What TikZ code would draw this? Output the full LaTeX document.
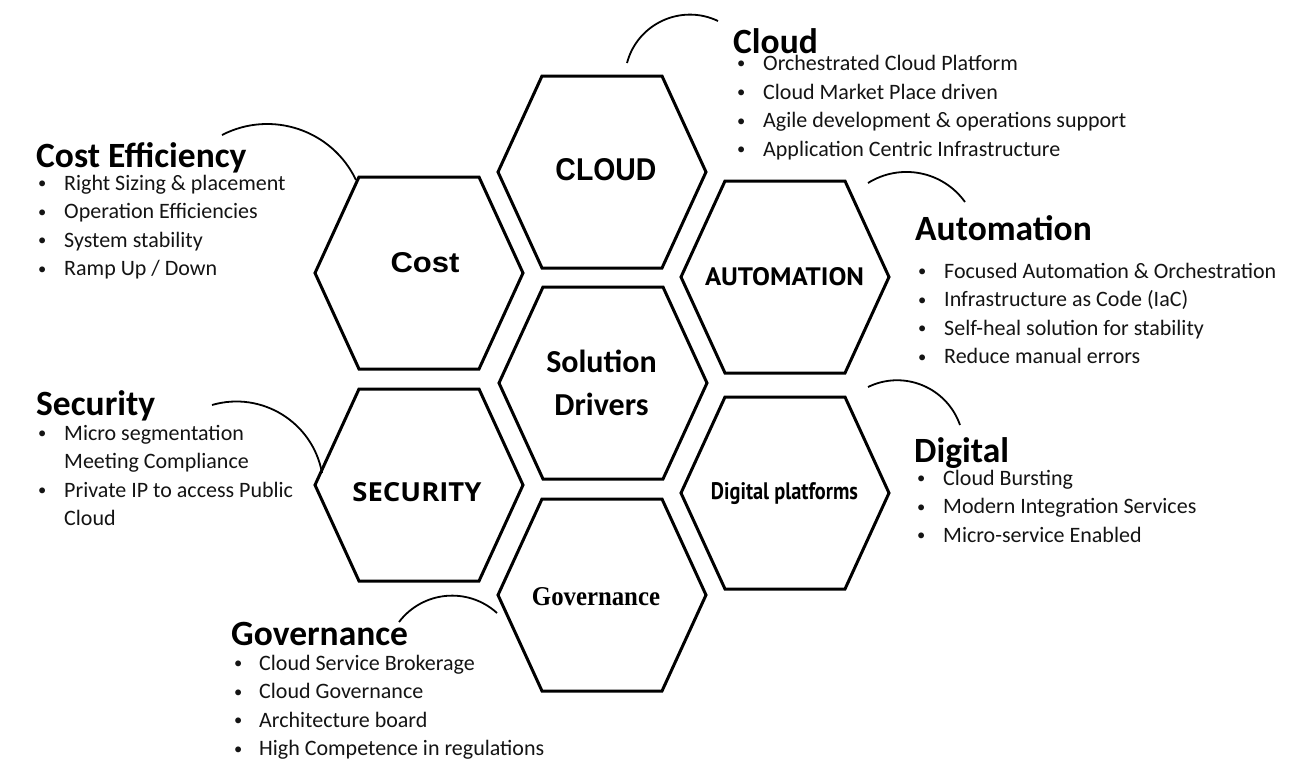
\documentclass[tikz,border=0pt]{standalone}
\usepackage{fontspec}
\usepackage{graphicx}
\setmainfont{Carlito}
\newfontfamily\calfont{Carlito}
\newfontfamily\arialfont{Liberation Sans}
\newfontfamily\ptfont{PT Sans}
\newfontfamily\serfont{Liberation Serif}
\newfontfamily\opfont{Open Sans}
\newcommand\bulitem[2]{\makebox[#1pt][l]{\hspace{1pt}\raisebox{1.5pt}{\scalebox{0.75}{\textbullet}}}#2}
\begin{document}
\begin{tikzpicture}[x=1pt,y=-1pt,
  hexline/.style={line width=3pt, line join=miter, draw=black},
  hexa/.pic={\draw[hexline] (-104,0) -- (-60,-96) -- (60,-96) -- (104,0) -- (60,96) -- (-60,96) -- cycle;},
  arcline/.style={line width=1.8pt, draw=black},
  headtxt/.style={font=\calfont\bfseries\fontsize{35.5}{40}\selectfont, anchor=base west, inner sep=0pt, text=black},
  bultxt/.style={font=\calfont\fontsize{22}{26}\selectfont, anchor=base west, inner sep=0pt, text=black!92},
  hexlab/.style={anchor=base, inner sep=0pt, text=black}
]
\useasboundingbox[fill=white] (0,0) rectangle (1302,772);

% hexagon centres
\coordinate (cCloud) at (602,172);
\coordinate (cCost) at (419,273);
\coordinate (cSol) at (603,383);
\coordinate (cAuto) at (785,277);
\coordinate (cDig) at (785,493);
\coordinate (cSec) at (419,485);
\coordinate (cGov) at (602,595);
\foreach \c in {cCloud,cCost,cSol,cAuto,cDig,cSec,cGov} {\pic at (\c) {hexa};}

% hexagon labels
\node[hexlab] (lCloud) at (606,180) {\resizebox{101pt}{22pt}{\arialfont\bfseries CLOUD}};
\node[hexlab] (lCost) at (425,272) {\resizebox{69pt}{20pt}{\arialfont\bfseries Cost}};
\node[hexlab] (lAuto) at (784.5,285) {\resizebox{159pt}{18pt}{\ptfont\bfseries AUTOMATION}};
\node[hexlab] (lSec) at (417,501) {\resizebox{129pt}{19pt}{\opfont\bfseries SECURITY}};
\node[hexlab] (lDig) at (784.5,499) {\resizebox{147pt}{17pt}{\ptfont\bfseries Digital platforms}};
\node[hexlab] (lGov) at (596,605) {\resizebox{128pt}{18pt}{\serfont\bfseries Governance}};
\node[hexlab, font=\calfont\bfseries\fontsize{32}{36}\selectfont] (lSol1) at (601.5,372) {Solution};
\node[hexlab, font=\calfont\bfseries\fontsize{32}{36}\selectfont] (lSol2) at (601.5,415) {Drivers};

% Cloud block
\node[headtxt] (hCloud) at (733,53) {Cloud};
\node[bultxt] (bCloud1) at (736,70) {\bulitem{27}{Orchestrated Cloud Platform}};
\node[bultxt] (bCloud2) at (736,99) {\bulitem{27}{Cloud Market Place driven}};
\node[bultxt] (bCloud3) at (736,127.5) {\bulitem{27}{Agile development \& operations support}};
\node[bultxt] (bCloud4) at (736,156) {\bulitem{27}{Application Centric Infrastructure}};

% Cost block
\node[headtxt] (hCost) at (36,167) {Cost Efficiency};
\node[bultxt] (bCost1) at (37,190) {\bulitem{27}{Right Sizing \& placement}};
\node[bultxt] (bCost2) at (37,218.5) {\bulitem{27}{Operation Efficiencies}};
\node[bultxt] (bCost3) at (37,247) {\bulitem{27}{System stability}};
\node[bultxt] (bCost4) at (37,275.5) {\bulitem{27}{Ramp Up / Down}};

% Automation block
\node[headtxt] (hAuto) at (915,240) {Automation};
\node[bultxt] (bAuto1) at (917,278) {\bulitem{27}{Focused Automation \& Orchestration}};
\node[bultxt] (bAuto2) at (917,306.5) {\bulitem{27}{Infrastructure as Code (IaC)}};
\node[bultxt] (bAuto3) at (917,335) {\bulitem{27}{Self-heal solution for stability}};
\node[bultxt] (bAuto4) at (917,363.5) {\bulitem{27}{Reduce manual errors}};

% Digital block
\node[headtxt] (hDig) at (914,462) {Digital};
\node[bultxt] (bDig1) at (916,485) {\bulitem{27}{Cloud Bursting}};
\node[bultxt] (bDig2) at (916,513.5) {\bulitem{27}{Modern Integration Services}};
\node[bultxt] (bDig3) at (916,542) {\bulitem{27}{Micro-service Enabled}};

% Security block
\node[headtxt] (hSec) at (36,415) {Security};
\node[bultxt] (bSec1) at (37,440) {\bulitem{27}{Micro segmentation}};
\node[bultxt] (bSec2) at (64,468.5) {Meeting Compliance};
\node[bultxt] (bSec3) at (37,497) {\bulitem{27}{Private IP to access Public}};
\node[bultxt] (bSec4) at (64,525.5) {Cloud};

% Governance block
\node[headtxt] (hGov) at (231,645) {Governance};
\node[bultxt] (bGov1) at (233,670) {\bulitem{26}{Cloud Service Brokerage}};
\node[bultxt] (bGov2) at (233,698.5) {\bulitem{26}{Cloud Governance}};
\node[bultxt] (bGov3) at (233,727) {\bulitem{26}{Architecture board}};
\node[bultxt] (bGov4) at (233,755.5) {\bulitem{26}{High Competence in regulations}};

% arc end points
\coordinate (aCloudS) at (627,63);   \coordinate (aCloudE) at (718,21);
\coordinate (aCostS) at (222,135);   \coordinate (aCostE) at (356,180);
\coordinate (aAutoS) at (868,183);   \coordinate (aAutoE) at (965,202);
\coordinate (aDigS) at (868,387);    \coordinate (aDigE) at (960,425);
\coordinate (aSecS) at (212,405);    \coordinate (aSecE) at (322,473);
\coordinate (aGovS) at (399,622);    \coordinate (aGovE) at (497,613);

\draw[arcline] (aCloudS) .. controls (637.4,23.6) and (681.2,3.4) .. (aCloudE);
\draw[arcline] (aCostS) .. controls (271.4,109.5) and (332.1,129.8) .. (aCostE);
\draw[arcline] (aAutoS) .. controls (900.3,162.8) and (942.8,171.0) .. (aAutoE);
\draw[arcline] (aDigS) .. controls (903.9,369.5) and (946.8,387.3) .. (aDigE);
\draw[arcline] (aSecS) .. controls (261.5,390.5) and (312.9,422.2) .. (aSecE);
\draw[arcline] (aGovS) .. controls (422.7,590.8) and (468.0,586.6) .. (aGovE);
\end{tikzpicture}
\end{document}
